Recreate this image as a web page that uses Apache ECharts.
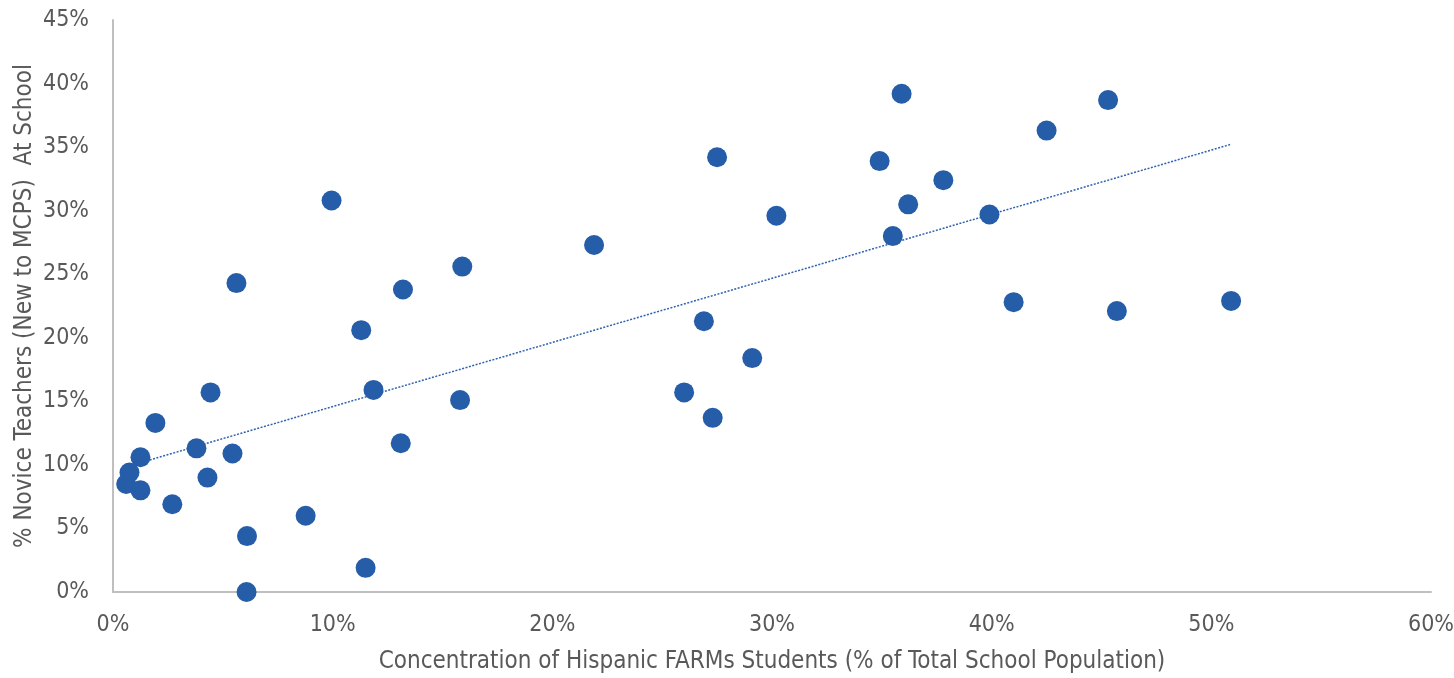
<!DOCTYPE html>
<html>
<head>
<meta charset="utf-8">
<script src="https://cdn.jsdelivr.net/npm/echarts@6/dist/echarts.min.js"></script>
<style>
html,body{margin:0;padding:0;background:#fff;}
#chart{width:1454px;height:678px;}
</style>
</head>
<body>
<div id="chart"></div>
<script>
// Concentration of Hispanic FARMs students (%), per school
const hispanicFarms = [0.6, 0.75, 1.25, 1.25, 1.93, 2.7, 3.8, 4.3, 4.44, 5.44, 5.62, 6.1, 6.08, 8.77, 9.95, 11.3, 11.5, 11.86, 13.1, 13.2, 15.8, 15.9, 21.9, 26.0, 26.9, 27.3, 27.5, 29.1, 30.2, 34.9, 35.5, 35.9, 36.2, 37.8, 39.9, 41.0, 42.5, 45.3, 45.7, 50.9];
// % Novice teachers (new to MCPS), per school
const noviceTeachers = [8.5, 9.4, 10.6, 8.0, 13.3, 6.9, 11.3, 9.0, 15.7, 10.9, 24.3, 4.4, 0.0, 6.0, 30.8, 20.6, 1.9, 15.9, 11.7, 23.8, 15.1, 25.6, 27.3, 15.7, 21.3, 13.7, 34.2, 18.4, 29.6, 33.9, 28.0, 39.2, 30.5, 32.4, 29.7, 22.8, 36.3, 38.7, 22.1, 22.9];
const xTicks = [0, 10, 20, 30, 40, 50, 60];
const yTicks = [0, 5, 10, 15, 20, 25, 30, 35, 40, 45];
const xTitle = 'Concentration of Hispanic FARMs Students (% of Total School Population)';
const yTitle = '% Novice Teachers (New to MCPS)  At School';

const points = hispanicFarms.map((x, i) => [x, noviceTeachers[i]]);
// Linear (least-squares) trendline, as in the source spreadsheet
const n = points.length;
const mx = hispanicFarms.reduce((a, b) => a + b, 0) / n;
const my = noviceTeachers.reduce((a, b) => a + b, 0) / n;
let sxy = 0, sxx = 0;
points.forEach(([x, y]) => { sxy += (x - mx) * (y - my); sxx += (x - mx) * (x - mx); });
const slope = sxy / sxx, intercept = my - slope * mx;
const xMin = Math.min(...hispanicFarms), xMax = Math.max(...hispanicFarms);
const trend = [[xMin, intercept + slope * xMin], [xMax, intercept + slope * xMax]];

const FONT = "'Liberation Sans Narrow', 'Arial Narrow', 'DejaVu Sans Condensed', sans-serif";
const chart = echarts.init(document.getElementById('chart'));
chart.setOption({
  animation: false,
  grid: { left: 113, right: 23, top: 20, bottom: 86, containLabel: false, outerBoundsMode: 'none' },
  xAxis: {
    type: 'value', min: xTicks[0], max: xTicks[xTicks.length - 1], interval: 10,
    name: xTitle, nameLocation: 'middle', nameGap: 58, nameMoveOverlap: false,
    nameTextStyle: { fontFamily: FONT, fontSize: 24, color: '#595959' },
    axisLine: { show: true, lineStyle: { color: '#bfbfbf', width: 2 } },
    axisTick: { show: false },
    splitLine: { show: false },
    axisLabel: { formatter: v => v + '%', fontFamily: FONT, fontSize: 23, color: '#595959', margin: 22 }
  },
  yAxis: {
    type: 'value', min: yTicks[0], max: yTicks[yTicks.length - 1], interval: 5,
    name: yTitle, nameLocation: 'middle', nameGap: 76, nameRotate: 90, nameMoveOverlap: false,
    nameTextStyle: { fontFamily: FONT, fontSize: 24, color: '#595959' },
    axisLine: { show: true, lineStyle: { color: '#bfbfbf', width: 2 } },
    axisTick: { show: false },
    splitLine: { show: false },
    axisLabel: { formatter: v => v + '%', fontFamily: FONT, fontSize: 23, color: '#595959', margin: 24 }
  },
  series: [
    {
      type: 'line', data: trend, showSymbol: false, symbol: 'none', silent: true,
      lineStyle: { color: '#2f62b0', width: 1.5, type: [2, 1.5] }, z: 1
    },
    {
      type: 'scatter', data: points, symbolSize: 20,
      itemStyle: { color: '#255DA9', opacity: 1 }, z: 2
    }
  ]
});
</script>
</body>
</html>
